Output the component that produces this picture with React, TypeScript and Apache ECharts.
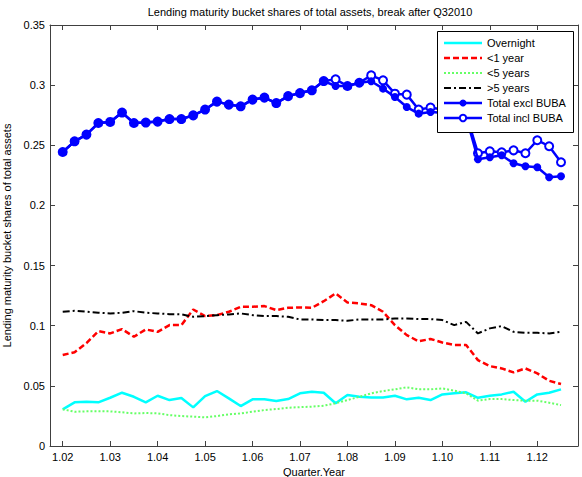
import React, { useEffect, useRef } from "react";
import * as echarts from "echarts";

const quarterYear = [
  1.02, 1.0225, 1.025, 1.0275, 1.03, 1.0325, 1.035, 1.0375, 1.04, 1.0425, 1.045,
  1.0475, 1.05, 1.0525, 1.055, 1.0575, 1.06, 1.0625, 1.065, 1.0675, 1.07, 1.0725,
  1.075, 1.0775, 1.08, 1.0825, 1.085, 1.0875, 1.09, 1.0925, 1.095, 1.0975, 1.1,
  1.1025, 1.105, 1.1075, 1.11, 1.1125, 1.115, 1.1175, 1.12, 1.1225, 1.125,
];

const overnight = [
  0.0305, 0.0363, 0.0368, 0.0363, 0.0401, 0.0443, 0.0409, 0.0363, 0.0418, 0.0382,
  0.0399, 0.0321, 0.0415, 0.0457, 0.0396, 0.0332, 0.0388, 0.0388, 0.0374, 0.039,
  0.0438, 0.0451, 0.0443, 0.0355, 0.0424, 0.0409, 0.0404, 0.0404, 0.0418, 0.0388,
  0.0401, 0.0382, 0.0429, 0.0438, 0.0446, 0.0401, 0.0418, 0.0429, 0.0451, 0.0368,
  0.0429, 0.0443, 0.0471,
];

const lt1Year = [
  0.0756, 0.078, 0.0855, 0.0955, 0.0936, 0.0972, 0.0908, 0.0969, 0.0949, 0.1005,
  0.1005, 0.1135, 0.108, 0.1088, 0.1116, 0.1157, 0.1157, 0.1163, 0.113, 0.1149,
  0.1152, 0.1149, 0.1204, 0.1268, 0.1193, 0.1185, 0.1171, 0.1116, 0.1005, 0.0922,
  0.087, 0.089, 0.086, 0.084, 0.084, 0.0714, 0.0664, 0.0645, 0.0612, 0.0645,
  0.0604, 0.0542, 0.0515,
];

const lt5Years = [
  0.0305, 0.0285, 0.0288, 0.0288, 0.0288, 0.028, 0.0271, 0.0274, 0.0271, 0.0257,
  0.0249, 0.0244, 0.0238, 0.0249, 0.0263, 0.0271, 0.0285, 0.0299, 0.0307, 0.0318,
  0.0323, 0.0327, 0.0335, 0.0355, 0.0382, 0.0409, 0.0438, 0.0457, 0.0471, 0.0488,
  0.0471, 0.0471, 0.0479, 0.046, 0.0438, 0.0377, 0.039, 0.039, 0.0382, 0.0377,
  0.0377, 0.036, 0.034,
];

const gt5Years = [
  0.1116, 0.1124, 0.1116, 0.1108, 0.1102, 0.1108, 0.1121, 0.1108, 0.1102, 0.1096,
  0.1094, 0.1074, 0.108, 0.1088, 0.1094, 0.1102, 0.1088, 0.108, 0.108, 0.1074,
  0.1052, 0.1052, 0.1047, 0.1047, 0.1041, 0.1052, 0.1052, 0.1052, 0.106, 0.106,
  0.1055, 0.1055, 0.1047, 0.1005, 0.1032, 0.0936, 0.0978, 0.0997, 0.0949, 0.0941,
  0.0941, 0.0936, 0.0949,
];

const totalExclBuba = [
  0.2444, 0.2533, 0.2589, 0.2685, 0.2694, 0.2772, 0.2685, 0.2689, 0.2697, 0.2718,
  0.2718, 0.2749, 0.2797, 0.2863, 0.2838, 0.2824, 0.288, 0.2896, 0.2851, 0.2909,
  0.2934, 0.2957, 0.3034, 0.2993, 0.2993, 0.302, 0.3032, 0.2971, 0.2901, 0.2818,
  0.2763, 0.2777, 0.277, 0.276, 0.274, 0.2384, 0.24, 0.2417, 0.235, 0.2326,
  0.2317, 0.2234, 0.2243,
];

const totalInclBuba = [
  0.2444, 0.2533, 0.2589, 0.2685, 0.2694, 0.2772, 0.2685, 0.2689, 0.2697, 0.2718,
  0.2718, 0.2749, 0.2797, 0.2863, 0.2838, 0.2824, 0.288, 0.2896, 0.2851, 0.2909,
  0.2934, 0.2957, 0.3034, 0.3048, 0.2993, 0.302, 0.3081, 0.304, 0.2929, 0.2921,
  0.2797, 0.2813, 0.28, 0.279, 0.276, 0.2434, 0.245, 0.2442, 0.2458, 0.2434,
  0.2542, 0.2492, 0.2359,
];

const xTicks = [1.02, 1.03, 1.04, 1.05, 1.06, 1.07, 1.08, 1.09, 1.1, 1.11, 1.12];

const seriesNames = [
  "Overnight",
  "<1 year",
  "<5 years",
  ">5 years",
  "Total excl BUBA",
  "Total incl BUBA",
];

const FONT = "'Liberation Sans', Arial, Helvetica, sans-serif";

const pairs = (ys: number[]) => quarterYear.map((x, i) => [x, ys[i]]);

export default function App() {
  const ref = useRef<HTMLDivElement>(null);

  useEffect(() => {
    if (!ref.current) return;
    const chart = echarts.init(ref.current, null, { renderer: "svg" });

    const axisLineStyle = { color: "#404040", width: 1 };
    const xCommon = {
      type: "value" as const,
      min: 1.01732,
      max: 1.12858,
      splitLine: { show: false },
      axisLine: { show: true, onZero: false, lineStyle: axisLineStyle },
    };
    const yCommon = {
      type: "value" as const,
      min: 0,
      max: 0.35,
      interval: 0.05,
      splitLine: { show: false },
      axisLine: { show: true, onZero: false, lineStyle: axisLineStyle },
    };

    const LZ = 100;
    const legendY0 = 43;
    const legendStep = 15;
    const legendStyles: any[] = [
      { stroke: "#00ffff", lineWidth: 2.5 },
      { stroke: "#ff0000", lineWidth: 2.5, lineDash: [6, 3] },
      { stroke: "#66ff66", lineWidth: 2, lineDash: [2, 2] },
      { stroke: "#000000", lineWidth: 2, lineDash: [7, 3, 2, 3] },
      { stroke: "#0000ff", lineWidth: 2.5 },
      { stroke: "#0000ff", lineWidth: 2.5 },
    ];
    const legendElements: any[] = [
      {
        type: "rect",
        z: LZ,
        shape: { x: 437.5, y: 31.5, width: 136, height: 101 },
        style: { fill: "#ffffff", stroke: "#000000", lineWidth: 1 },
      },
    ];
    seriesNames.forEach((name, i) => {
      const y = legendY0 + i * legendStep;
      legendElements.push({
        type: "line",
        z: LZ + 1,
        shape: { x1: 444, y1: y, x2: 482, y2: y },
        style: legendStyles[i],
      });
      if (i === 4) {
        legendElements.push({
          type: "circle",
          z: LZ + 2,
          shape: { cx: 463, cy: y, r: 3.5 },
          style: { fill: "#0000ff" },
        });
      }
      if (i === 5) {
        legendElements.push({
          type: "circle",
          z: LZ + 2,
          shape: { cx: 463, cy: y, r: 3.2 },
          style: { fill: "#ffffff", stroke: "#0000ff", lineWidth: 2 },
        });
      }
      legendElements.push({
        type: "text",
        z: LZ + 2,
        x: 487,
        y,
        style: {
          text: name,
          fontSize: 11,
          fontFamily: FONT,
          fill: "#000",
          textAlign: "left",
          textVerticalAlign: "middle",
        },
      });
    });

    chart.setOption({
      animation: false,
      backgroundColor: "#ffffff",
      grid: {
        left: 50,
        right: 4,
        top: 25,
        bottom: 31,
        containLabel: false,
        outerBoundsMode: "none",
      },
      xAxis: [
        {
          ...xCommon,
          position: "bottom",
          name: "Quarter.Year",
          nameLocation: "middle",
          nameGap: 13,
          nameTextStyle: { fontSize: 11, fontFamily: FONT, color: "#000" },
          axisTick: {
            show: true,
            inside: true,
            length: 5,
            customValues: xTicks,
            lineStyle: axisLineStyle,
          },
          axisLabel: {
            show: true,
            customValues: xTicks,
            margin: 5,
            fontSize: 11,
            fontFamily: FONT,
            color: "#000",
            formatter: (v: number) => v.toFixed(2),
          },
        },
        {
          ...xCommon,
          position: "top",
          axisTick: {
            show: true,
            inside: true,
            length: 5,
            customValues: xTicks,
            lineStyle: axisLineStyle,
          },
          axisLabel: { show: false },
        },
      ],
      yAxis: [
        {
          ...yCommon,
          position: "left",
          name: "Lending maturity bucket shares of total assets",
          nameLocation: "middle",
          nameGap: 33,
          nameTextStyle: { fontSize: 11, fontFamily: FONT, color: "#000" },
          axisTick: { show: true, inside: true, length: 5, lineStyle: axisLineStyle },
          axisLabel: {
            show: true,
            margin: 5,
            fontSize: 11,
            fontFamily: FONT,
            color: "#000",
            formatter: (v: number) => String(Math.round(v * 100) / 100),
          },
        },
        {
          ...yCommon,
          position: "right",
          axisTick: { show: true, inside: true, length: 5, lineStyle: axisLineStyle },
          axisLabel: { show: false },
        },
      ],
      title: { show: false },
      legend: { show: false },
      graphic: [
        {
          type: "text",
          x: 310,
          y: 12,
          style: {
            text: "Lending maturity bucket shares of total assets, break after Q32010",
            fontSize: 11,
            fontFamily: FONT,
            fill: "#000",
            textAlign: "center",
            textVerticalAlign: "middle",
          },
        },
        ...legendElements,
      ],
      series: [
        {
          name: seriesNames[0],
          type: "line",
          data: pairs(overnight),
          symbol: "none",
          lineStyle: { color: "#00ffff", width: 2.5 },
          z: 2,
        },
        {
          name: seriesNames[1],
          type: "line",
          data: pairs(lt1Year),
          symbol: "none",
          lineStyle: { color: "#ff0000", width: 2.5, type: [6, 3] },
          z: 2,
        },
        {
          name: seriesNames[2],
          type: "line",
          data: pairs(lt5Years),
          symbol: "none",
          lineStyle: { color: "#66ff66", width: 2, type: [2, 2] },
          z: 2,
        },
        {
          name: seriesNames[3],
          type: "line",
          data: pairs(gt5Years),
          symbol: "none",
          lineStyle: { color: "#000000", width: 2, type: [7, 3, 2, 3] },
          z: 2,
        },
        {
          name: seriesNames[5],
          type: "line",
          data: pairs(totalInclBuba),
          symbol: "circle",
          symbolSize: 8,
          itemStyle: { color: "#ffffff", borderColor: "#0000ff", borderWidth: 2 },
          lineStyle: { color: "#0000ff", width: 2.5 },
          z: 3,
        },
        {
          name: seriesNames[4],
          type: "line",
          data: pairs(totalExclBuba),
          symbol: "circle",
          symbolSize: 8,
          itemStyle: { color: "#0000ff" },
          lineStyle: { color: "#0000ff", width: 2.5 },
          z: 4,
        },
      ],
    });

    return () => chart.dispose();
  }, []);

  return (
    <div
      ref={ref}
      style={{ position: "absolute", left: 0, top: 0, width: 582, height: 477 }}
    />
  );
}
